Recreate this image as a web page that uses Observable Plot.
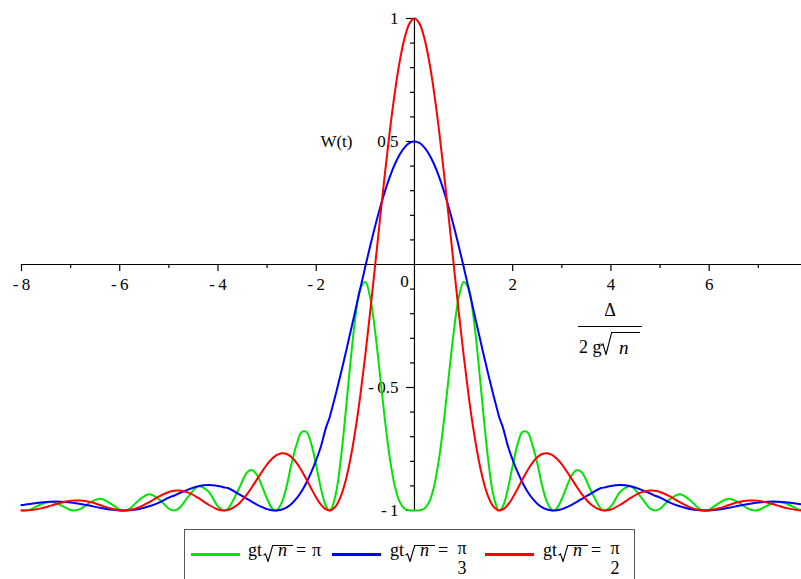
<!DOCTYPE html>
<html><head><meta charset="utf-8">
<script src="https://cdn.jsdelivr.net/npm/d3@7"></script>
<script src="https://cdn.jsdelivr.net/npm/@observablehq/plot@0.6"></script>
<style>
html,body{margin:0;padding:0;background:#fff;overflow:hidden;}
#wrap{position:relative;width:801px;height:579px;overflow:hidden;font-family:"Liberation Serif","Times New Roman",serif;font-size:18px;color:#000;}
#wrap svg, #wrap svg text{font-family:"Liberation Serif","Times New Roman",serif !important;}
.abs{position:absolute;line-height:17px;white-space:nowrap;}
.it{font-style:italic;}
.sw{position:absolute;height:3px;}
</style></head><body><div id="wrap"></div>
<script>
// ---- data ----
const xs = [-8, -7.937, -7.8, -7.6, -7.4, -7.2, -7, -6.928, -6.8, -6.6, -6.4, -6.2, -6, -5.916, -5.8, -5.6, -5.4, -5.2, -5, -4.899, -4.8, -4.6, -4.4, -4.2, -4, -3.873, -3.8, -3.6, -3.4, -3.3, -3.2, -3, -2.9, -2.828, -2.8, -2.7, -2.6, -2.5, -2.4, -2.3, -2.2, -2.1, -2, -1.9, -1.8, -1.732, -1.7, -1.6, -1.5, -1.4, -1.3, -1.2, -1.1, -1, -0.9, -0.8, -0.7, -0.6, -0.5, -0.4, -0.3, -0.2, -0.1,
 0, 0.1, 0.2, 0.3, 0.4, 0.5, 0.6, 0.7, 0.8, 0.9, 1, 1.1, 1.2, 1.3, 1.4, 1.5, 1.6, 1.7, 1.732, 1.8, 1.9, 2, 2.1, 2.2, 2.3, 2.4, 2.5, 2.6, 2.7, 2.8, 2.828, 2.9, 3, 3.2, 3.3, 3.4, 3.6, 3.8, 3.873, 4, 4.2, 4.4, 4.6, 4.8, 4.899, 5, 5.2, 5.4, 5.6, 5.8, 5.916, 6, 6.2, 6.4, 6.6, 6.8, 6.928, 7, 7.2, 7.4, 7.6, 7.8, 7.937, 8];

// gt*sqrt(n) = pi
const greenW = [-0.9988, -1, -0.9944, -0.9745, -0.9645, -0.9788, -0.9980, -1, -0.9936, -0.9674, -0.9526, -0.9699, -0.9964, -1, -0.9929, -0.9561, -0.9337, -0.9543, -0.9928, -1, -0.9925, -0.9429, -0.9019, -0.9220, -0.9833, -1, -0.9937, -0.9222, -0.8438, -0.8362, -0.8576, -0.9524, -0.9906, -1, -0.9984, -0.9669, -0.8998, -0.8072, -0.7324, -0.6822, -0.6805, -0.7303, -0.8175, -0.9138, -0.9839, -1, -0.9961, -0.9319, -0.7925, -0.5998, -0.3914, -0.2111, -0.0966, -0.0709, -0.1359, -0.2736, -0.4519, -0.6343, -0.7899, -0.9010, -0.9651, -0.9926, -0.9995,
 -1, -0.9995, -0.9926, -0.9651, -0.9010, -0.7899, -0.6343, -0.4519, -0.2736, -0.1359, -0.0709, -0.0966, -0.2111, -0.3914, -0.5998, -0.7925, -0.9319, -0.9961, -1, -0.9839, -0.9138, -0.8175, -0.7303, -0.6805, -0.6822, -0.7324, -0.8072, -0.8998, -0.9669, -0.9984, -1, -0.9906, -0.9524, -0.8576, -0.8362, -0.8438, -0.9222, -0.9937, -1, -0.9833, -0.9220, -0.9019, -0.9429, -0.9925, -1, -0.9928, -0.9543, -0.9337, -0.9561, -0.9929, -1, -0.9964, -0.9699, -0.9526, -0.9674, -0.9936, -1, -0.9980, -0.9788, -0.9645, -0.9745, -0.9944, -1, -0.9988];

// gt*sqrt(n) = pi/3
const blueW = [-0.9780, -0.9766, -0.9721, -0.9670, -0.9642, -0.9643, -0.9675, -0.9694, -0.9734, -0.9811, -0.9890, -0.9958, -0.9996, -1, -0.9992, -0.9937, -0.9829, -0.9677, -0.9478, -0.94, -0.9308, -0.9139, -0.9018, -0.8966, -0.9001, -0.9063, -0.9086, -0.9304, -0.9537, -0.9656, -0.9768, -0.9943, -0.9989, -1, -0.9998, -0.9962, -0.9872, -0.9724, -0.9511, -0.9228, -0.8873, -0.8444, -0.7942, -0.7367, -0.6620, -0.625, -0.6017, -0.5254, -0.4444, -0.3597, -0.2724, -0.1838, -0.0952, -0.0080, 0.0763, 0.1563, 0.2307, 0.2981, 0.3574, 0.4074, 0.4474, 0.4764, 0.4941,
 0.5, 0.4941, 0.4764, 0.4474, 0.4074, 0.3574, 0.2981, 0.2307, 0.1563, 0.0763, -0.0080, -0.0952, -0.1838, -0.2724, -0.3597, -0.4444, -0.5254, -0.6017, -0.625, -0.6620, -0.7367, -0.7942, -0.8444, -0.8873, -0.9228, -0.9511, -0.9724, -0.9872, -0.9962, -0.9998, -1, -0.9989, -0.9943, -0.9768, -0.9656, -0.9537, -0.9304, -0.9086, -0.9063, -0.9001, -0.8966, -0.9018, -0.9139, -0.9308, -0.94, -0.9478, -0.9677, -0.9829, -0.9937, -0.9992, -1, -0.9996, -0.9958, -0.9890, -0.9811, -0.9734, -0.9694, -0.9675, -0.9643, -0.9642, -0.9670, -0.9721, -0.9766, -0.9780];

// gt*sqrt(n) = pi/2
const redW = [-0.9997, -1, -0.9985, -0.9914, -0.9802, -0.9685, -0.9605, -0.9592, -0.9593, -0.9658, -0.9778, -0.9908, -0.9991, -1, -0.9982, -0.9864, -0.9660, -0.9429, -0.9249, -0.92, -0.9187, -0.9275, -0.9490, -0.9755, -0.9957, -1, -0.9984, -0.9768, -0.9314, -0.9023, -0.8713, -0.8127, -0.7898, -0.7778, -0.7742, -0.7673, -0.7704, -0.7836, -0.8064, -0.8370, -0.8731, -0.9113, -0.9475, -0.9772, -0.9959, -1, -0.9990, -0.9824, -0.9428, -0.8780, -0.7867, -0.6695, -0.5285, -0.3669, -0.1895, -0.0025, 0.1874, 0.3726, 0.5456, 0.6990, 0.8261, 0.9212, 0.9801,
 1, 0.9801, 0.9212, 0.8261, 0.6990, 0.5456, 0.3726, 0.1874, -0.0025, -0.1895, -0.3669, -0.5285, -0.6695, -0.7867, -0.8780, -0.9428, -0.9824, -0.9990, -1, -0.9959, -0.9772, -0.9475, -0.9113, -0.8731, -0.8370, -0.8064, -0.7836, -0.7704, -0.7673, -0.7742, -0.7778, -0.7898, -0.8127, -0.8713, -0.9023, -0.9314, -0.9768, -0.9984, -1, -0.9957, -0.9755, -0.9490, -0.9275, -0.9187, -0.92, -0.9249, -0.9429, -0.9660, -0.9864, -0.9982, -1, -0.9991, -0.9908, -0.9778, -0.9658, -0.9593, -0.9592, -0.9605, -0.9685, -0.9802, -0.9914, -0.9985, -1, -0.9997];

const xTicks = [-8, -7, -6, -5, -4, -3, -2, -1, 1, 2, 3, 4, 5, 6, 7];
const xTickLabels = [-8, -6, -4, -2, 2, 4, 6];
const yTicks = [-1, -0.9, -0.8, -0.7, -0.6, -0.5, -0.4, -0.3, -0.2, -0.1, 0.1, 0.2, 0.3, 0.4, 0.5, 0.6, 0.7, 0.8, 0.9, 1];
const yTickLabels = [-1, -0.5, 0.5, 1];
const yLabel = "W(t)";
const seriesColors = {green: "#00e400", blue: "#0000ff", red: "#ff0000"};

if (greenW.length !== xs.length || blueW.length !== xs.length || redW.length !== xs.length)
  throw new Error("length mismatch " + xs.length + " " + greenW.length + " " + blueW.length + " " + redW.length);

// ---- layout ----
const W = 801, H = 579;
const mT = 18, mB = 69;
const x0px = 21, pxPerX = 49.12;
const pxPerY = (H - mT - mB) / 2;
const FONT = "Liberation Serif, Times New Roman, serif";
const fmt = d => (d < 0 ? "-\u2009" + String(Math.abs(d)) : String(d));

const rows = (ys) => xs.map((x, i) => ({x, y: ys[i]}));

const chart = Plot.plot({
  width: W, height: H,
  marginTop: mT, marginBottom: mB, marginLeft: x0px, marginRight: 0,
  x: {domain: [-8, 8], range: [x0px, x0px + 16 * pxPerX], axis: null},
  y: {domain: [-1, 1], axis: null},
  style: {background: "white", fontFamily: FONT},
  marks: [
    Plot.ruleY([0], {x1: -8, x2: 8, stroke: "black", strokeWidth: 1.2}),
    Plot.ruleX([0], {y1: -1, y2: 1, stroke: "black", strokeWidth: 1.2}),
    Plot.ruleX(xTicks, {x: d => d, y1: 0, y2: d => (d % 2 === 0 ? -7 : -4) / pxPerY, stroke: "black", strokeWidth: 1.2}),
    Plot.ruleY(yTicks, {y: d => d, x1: d => (Math.abs(d) === 0.5 || Math.abs(d) === 1 ? -8 : -4) / pxPerX, x2: 0, stroke: "black", strokeWidth: 1.2}),
    Plot.text(xTickLabels, {x: d => d, y: 0, dy: 20, text: fmt, fontSize: 17, fontFamily: FONT, fill: "black"}),
    Plot.text(["0"], {x: 0, y: 0, dx: -10, dy: 17, text: d => d, fontSize: 17, fontFamily: FONT, fill: "black"}),
    Plot.text(yTickLabels, {x: 0, y: d => d, dx: -16, textAnchor: "end", text: fmt, fontSize: 17, fontFamily: FONT, fill: "black"}),
    Plot.text([yLabel], {x: 0, y: 0.5, dx: -78, text: d => d, fontSize: 17, fontFamily: FONT, fill: "black"}),
    Plot.line(rows(greenW), {x: "x", y: "y", stroke: seriesColors.green, strokeWidth: 2, curve: "catmull-rom"}),
    Plot.line(rows(blueW), {x: "x", y: "y", stroke: seriesColors.blue, strokeWidth: 2, curve: "catmull-rom"}),
    Plot.line(rows(redW), {x: "x", y: "y", stroke: seriesColors.red, strokeWidth: 2, curve: "catmull-rom"})
  ]
});
const wrap = document.getElementById("wrap");
chart.style.position = "absolute";
chart.style.left = "0px";
chart.style.top = "0px";
chart.style.maxWidth = "none";
chart.style.fontFamily = FONT;
wrap.appendChild(chart);

// ---- helpers for radicals ----
function radSvg(left, top, w, h) {
  return `<svg style="position:absolute;left:${left}px;top:${top}px" width="${w}" height="${h}" viewBox="0 0 ${w} ${h}"><path d="M0.5,${(h*0.6).toFixed(1)} L${(w*0.25).toFixed(1)},${(h*0.52).toFixed(1)} L${(w*0.5).toFixed(1)},${h-0.5} L${w-0.3},0.5" fill="none" stroke="#000" stroke-width="1.1"/></svg>`;
}
function add(html) { wrap.insertAdjacentHTML("beforeend", html); }

// ---- x-axis label: Δ / (2 g √n) ----
add(`<div class="abs" style="left:578px;top:302px;width:64px;text-align:center;font-size:18px">Δ</div>`);
add(`<div style="position:absolute;left:578px;top:326px;width:64px;height:1px;background:#000"></div>`);
add(`<div class="abs" style="left:579px;top:339px;font-size:18px">2 g</div>`);
add(radSvg(600, 332, 12, 23));
add(`<div style="position:absolute;left:611px;top:332px;width:29px;height:1px;background:#000"></div>`);
add(`<div class="abs it" style="left:619px;top:339px;font-size:19px">n</div>`);

// ---- legend ----
add(`<div style="position:absolute;left:184px;top:529px;width:451px;height:70px;border:1px solid #555;box-sizing:border-box"></div>`);
function legendItem(swLeft, color, textLeft, rhs, frac) {
  add(`<div class="sw" style="left:${swLeft}px;top:553px;width:49px;background:${color}"></div>`);
  add(`<div class="abs" style="left:${textLeft}px;top:542px">gt</div>`);
  add(radSvg(textLeft + 15, 545, 10, 17));
  add(`<div style="position:absolute;left:${textLeft + 24}px;top:545px;width:21px;height:1px;background:#000"></div>`);
  add(`<div class="abs it" style="left:${textLeft + 30}px;top:542px">n</div>`);
  add(`<div class="abs" style="left:${textLeft + 48}px;top:542px">=</div>`);
  if (frac) {
    add(`<div class="abs" style="left:${textLeft + 66}px;top:540px;width:12px;text-align:center">${frac[0]}</div>`);
    add(`<div class="abs" style="left:${textLeft + 66}px;top:560px;width:12px;text-align:center">${frac[1]}</div>`);
  } else {
    add(`<div class="abs" style="left:${textLeft + 64}px;top:542px">${rhs}</div>`);
  }
}
legendItem(191, seriesColors.green, 248, "π", null);
legendItem(332, seriesColors.blue, 390, null, ["π", "3"]);
legendItem(485, seriesColors.red, 543, null, ["π", "2"]);
</script></body></html>
